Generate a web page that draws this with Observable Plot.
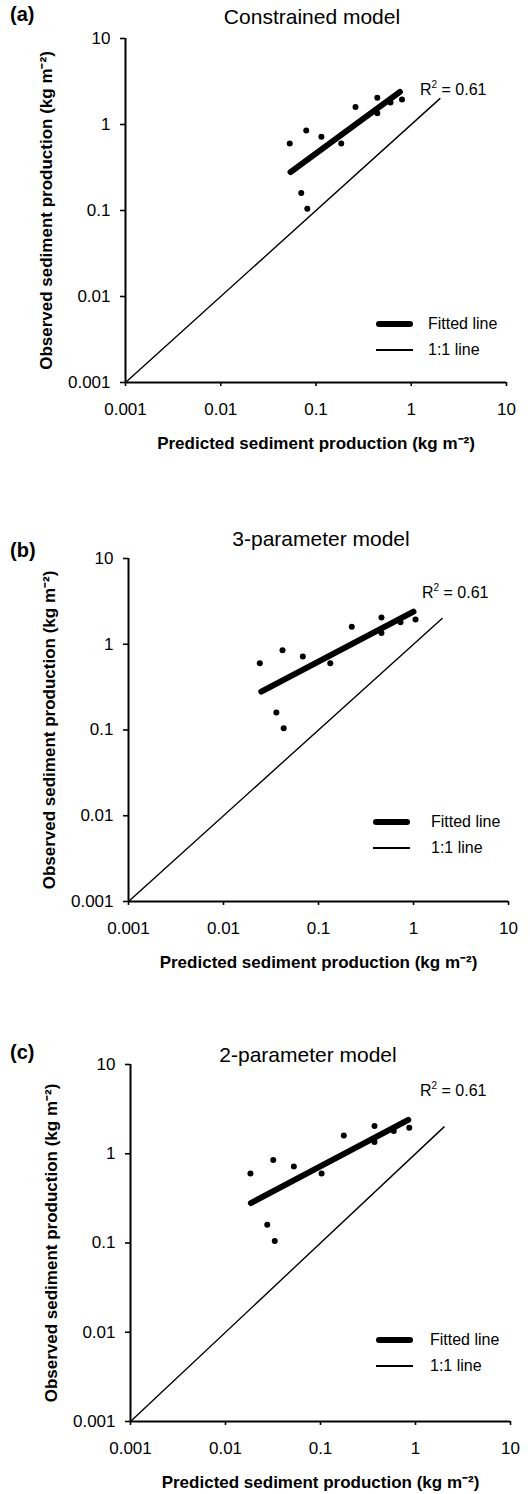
<!DOCTYPE html>
<html>
<head>
<meta charset="utf-8">
<script src="https://cdn.jsdelivr.net/npm/d3@7"></script>
<script src="https://cdn.jsdelivr.net/npm/@observablehq/plot@0.6"></script>
<style>
  html, body { margin: 0; padding: 0; background: #fff; }
  #fig { position: relative; width: 530px; height: 1494px; font-family: Arial, "Liberation Sans", sans-serif; color: #000; }
  #fig svg { position: absolute; left: 0; overflow: visible; }
  .t { position: absolute; white-space: nowrap; line-height: 1; }
  .lett { font-weight: bold; font-size: 20px; }
  .ttl { font-size: 21px; text-align: center; width: 300px; }
  .r2 { font-size: 16px; }
  .r2 sup { font-size: 10px; vertical-align: 7px; line-height: 0; }
  .lg { font-size: 16px; }
  .sw { position: absolute; background: #000; }
  svg g[aria-label="x-axis label"] text, svg g[aria-label="y-axis label"] text { font-weight: bold; font-size: 17px; }
</style>
</head>
<body>
<div id="fig"></div>
<script>
// ---- data ----
const tickValues = [0.001, 0.01, 0.1, 1, 10];
const tickLabels = ["0.001", "0.01", "0.1", "1", "10"];
const observed = [0.6, 0.85, 0.72, 0.6, 1.6, 2.05, 1.35, 1.8, 1.95, 0.16, 0.105];
const predictedA = [0.053, 0.079, 0.114, 0.184, 0.26, 0.44, 0.44, 0.605, 0.80, 0.070, 0.081];
const predictedB = [0.0241, 0.0418, 0.0684, 0.133, 0.224, 0.46, 0.46, 0.73, 1.05, 0.036, 0.043];
const predictedC = [0.0183, 0.0318, 0.0524, 0.1026, 0.176, 0.37, 0.37, 0.59, 0.86, 0.0275, 0.033];
const fitXA = [0.054, 0.76];
const fitXB = [0.025, 1.0];
const fitXC = [0.0185, 0.84];
const fitY = [0.28, 2.4];
const oneToOne = [0.001, 2];
const titles = ["Constrained model", "3-parameter model", "2-parameter model"];
const letters = ["(a)", "(b)", "(c)"];
const r2Text = "0.61";
const legendLabels = ["Fitted line", "1:1 line"];
const xLabel = "Predicted sediment production (kg m\u207B\u00B2)";
const yLabel = "Observed sediment production (kg m\u207B\u00B2)";

const fig = document.getElementById("fig");
const font = 'Arial, "Liberation Sans", sans-serif';

function addText(cls, html, left, top) {
  const d = document.createElement("div");
  d.className = "t " + cls;
  d.innerHTML = html;
  d.style.left = left + "px";
  d.style.top = top + "px";
  fig.appendChild(d);
}
function addSwatch(left, top, w, h) {
  const d = document.createElement("div");
  d.className = "sw";
  Object.assign(d.style, {left: left + "px", top: top + "px", width: w + "px", height: h + "px"});
  if (h > 2) d.style.borderRadius = (h / 2) + "px";
  fig.appendChild(d);
}

function panel(cfg) {
  const pts = cfg.pred.map((p, i) => ({x: p, y: observed[i]}));
  const fit = cfg.fitX.map((x, i) => ({x, y: fitY[i]}));
  const ident = oneToOne.map(v => ({x: v, y: v}));
  const svg = Plot.plot({
    width: 530,
    height: cfg.height,
    marginTop: cfg.mt,
    marginBottom: cfg.mb,
    marginLeft: cfg.ml,
    marginRight: cfg.mr,
    style: {fontFamily: font, fontSize: "17px", color: "#000", background: "transparent"},
    x: {type: "log", domain: [0.001, 10]},
    y: {type: "log", domain: [0.001, 10]},
    marks: [
      Plot.axisX({ticks: tickValues, tickFormat: d => tickLabels[tickValues.indexOf(d)], tickSize: 4, tickPadding: 16,
        strokeWidth: 1.6, fontSize: 17, label: xLabel, labelAnchor: "center", labelArrow: "none", labelOffset: 66}),
      Plot.axisY({ticks: tickValues, tickFormat: d => tickLabels[tickValues.indexOf(d)], tickSize: 5, tickPadding: 10,
        strokeWidth: 1.6, fontSize: 17, label: yLabel, labelAnchor: "center", labelArrow: "none", labelOffset: 86}),
      Plot.ruleX([0.001], {stroke: "#000", strokeWidth: 2}),
      Plot.ruleY([0.001], {stroke: "#000", strokeWidth: 2}),
      Plot.line(ident, {x: "x", y: "y", stroke: "#000", strokeWidth: 1.4}),
      Plot.line(fit, {x: "x", y: "y", stroke: "#000", strokeWidth: 6, strokeLinecap: "round"}),
      Plot.dot(pts, {x: "x", y: "y", r: 3, fill: "#000", stroke: "none"})
    ]
  });
  svg.style.top = cfg.top + "px";
  fig.appendChild(svg);
}

panel({pred: predictedA, fitX: fitXA, top: 0, height: 470, mt: 38, mb: 88, ml: 125, mr: 24});
panel({pred: predictedB, fitX: fitXB, top: 500, height: 470, mt: 58, mb: 69, ml: 128, mr: 22});
panel({pred: predictedC, fitX: fitXC, top: 1000, height: 494, mt: 64, mb: 73, ml: 130, mr: 20});

// titles, letters, R², legends
const layout = [
  {letterY: 4, titleX: 312, titleY: 6, r2X: 420, r2Y: 82, lgY: [324, 350], swX: 376, txtX: 428},
  {letterY: 540, titleX: 321, titleY: 528, r2X: 422, r2Y: 585, lgY: [822, 848], swX: 373, txtX: 431},
  {letterY: 1042, titleX: 308, titleY: 1044, r2X: 420, r2Y: 1083, lgY: [1340, 1366], swX: 376, txtX: 430}
];
layout.forEach((L, i) => {
  addText("lett", letters[i], 10, L.letterY);
  addText("ttl", titles[i], L.titleX - 150, L.titleY);
  addText("r2", "R<sup>2</sup> = " + r2Text, L.r2X, L.r2Y);
  addSwatch(L.swX, L.lgY[0] - 3, 37, 6);
  addText("lg", legendLabels[0], L.txtX, L.lgY[0] - 8);
  addSwatch(L.swX, L.lgY[1] - 0.7, 37, 1.4);
  addText("lg", legendLabels[1], L.txtX, L.lgY[1] - 8);
});
</script>
</body>
</html>
